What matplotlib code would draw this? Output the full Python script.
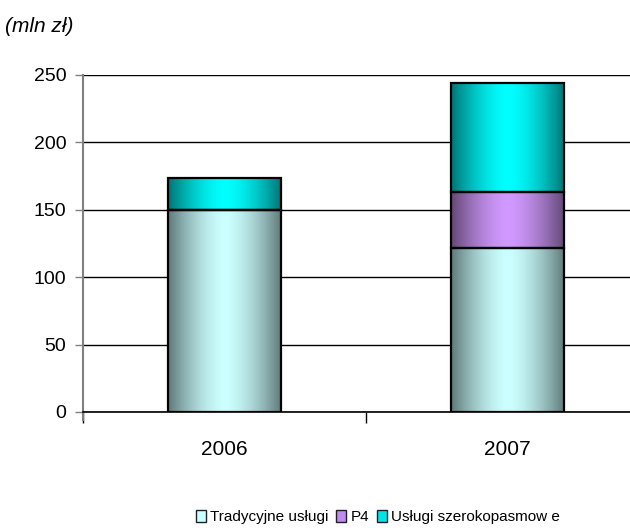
import numpy as np
import matplotlib
matplotlib.use("Agg")
import matplotlib.pyplot as plt
from matplotlib.patches import Patch

years = ["2006", "2007"]
tradycyjne = [150, 122]
p4 = [0, 41]
szerokopasmowe = [23.5, 81]
series_labels = ["Tradycyjne usługi", "P4", "Usługi szerokopasmow e"]
yticks = [0, 50, 100, 150, 200, 250]

# (edge colour, centre colour) for the cylinder-like horizontal shading
shades = [
    ((0.37, 0.47, 0.47), (0.80, 1.00, 1.00)),
    ((0.38, 0.28, 0.45), (0.82, 0.60, 1.00)),
    ((0.00, 0.45, 0.45), (0.00, 1.00, 1.00)),
]
legend_colors = [(0.80, 1.00, 1.00), (0.75, 0.55, 0.95), (0.00, 0.90, 0.90)]

plt.rcParams["font.family"] = ["Liberation Sans", "DejaVu Sans"]

fig = plt.figure(figsize=(6.30, 5.28), dpi=100)
ax = fig.add_axes([83 / 630, 1 - 412 / 528, 566 / 630, 337 / 528])

x = np.arange(len(years))
width = 0.4


def shade_image(edge, centre, n=256):
    t = np.linspace(-1, 1, n)
    w = np.clip(1 - np.abs(t) ** 1.6, 0, 1)
    edge = np.array(edge)
    centre = np.array(centre)
    row = edge[None, :] * (1 - w[:, None]) + centre[None, :] * w[:, None]
    return row[None, :, :]


bottoms = np.zeros(len(years))
for vals, (edge, centre) in zip([tradycyjne, p4, szerokopasmowe], shades):
    vals = np.array(vals, dtype=float)
    bars = ax.bar(x, vals, width, bottom=bottoms, facecolor="none",
                  edgecolor="black", linewidth=1.6, zorder=4)
    img = shade_image(edge, centre)
    for b, v, b0 in zip(bars, vals, bottoms):
        if v <= 0:
            continue
        im = ax.imshow(img, extent=(b.get_x(), b.get_x() + b.get_width(), b0, b0 + v),
                       aspect="auto", zorder=3, interpolation="bilinear")
        im.set_clip_path(b)
    bottoms = bottoms + vals

ax.set_xlim(-0.5, 1.5)
ax.set_ylim(0, 250)
ax.set_yticks(yticks)
ax.set_yticklabels([str(v) for v in yticks], fontsize=14)
ax.yaxis.grid(True, color="black", linewidth=1.0, zorder=1)
ax.set_axisbelow(True)

ax.set_xticks(x)
ax.set_xticklabels(years, fontsize=15)
ax.tick_params(axis="x", length=0, pad=20)
ax.set_xticks([-0.5, 0.5, 1.5], minor=True)
ax.tick_params(axis="x", which="minor", length=8, width=1.0, color="black")
ax.tick_params(axis="y", length=6, width=1.0, color="#808080", pad=6)

for s in ["top", "right"]:
    ax.spines[s].set_visible(False)
ax.spines["left"].set_color("#808080")
ax.spines["left"].set_linewidth(1.5)
ax.spines["left"].set_bounds(-6, 250)
ax.spines["bottom"].set_color("black")
ax.spines["bottom"].set_linewidth(1.2)

fig.text(5 / 630, 1 - 27 / 528, "(mln zł)", fontsize=15, style="italic",
         va="center", ha="left")

handles = [Patch(facecolor=c, edgecolor="#202020", linewidth=1.0) for c in legend_colors]
fig.legend(handles, series_labels, loc="center", bbox_to_anchor=(378 / 630, 1 - 517 / 528),
           ncol=3, frameon=False, handlelength=0.65, handleheight=0.8,
           handletextpad=0.3, columnspacing=0.5,
           prop={"size": 11})

fig.savefig("out.png", dpi=100)
